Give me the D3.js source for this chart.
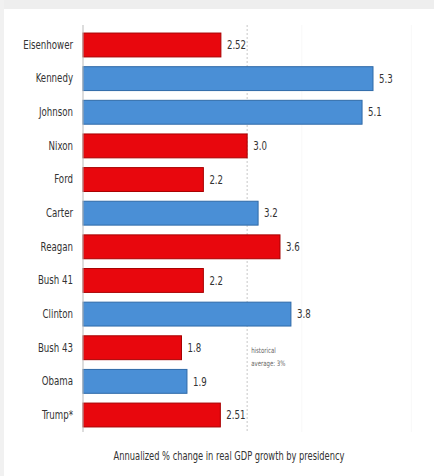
<!DOCTYPE html>
<html>
<head>
  <script src="https://d3js.org/d3.v7.min.js"></script>
  <style>
    body { margin: 0; background: #ffffff; }
    text { font-family: "DejaVu Sans Condensed", "DejaVu Sans", sans-serif; font-stretch: condensed; fill: #333; }
  </style>
</head>
<body>
  <svg width="434" height="476"></svg>
  <script>
  // data
  var presidents = ["Eisenhower", "Kennedy", "Johnson", "Nixon", "Ford", "Carter",
                    "Reagan", "Bush 41", "Clinton", "Bush 43", "Obama", "Trump*"];
  var growth = [2.52, 5.3, 5.1, 3.0, 2.2, 3.2, 3.6, 2.2, 3.8, 1.8, 1.9, 2.51];
  var labels = ["2.52", "5.3", "5.1", "3.0", "2.2", "3.2", "3.6", "2.2", "3.8", "1.8", "1.9", "2.51"];
  var party = ["R", "D", "D", "R", "R", "D", "R", "R", "D", "R", "D", "R"];
  var average = 3;

  var svg = d3.select("svg");
  var squeeze = 0.8; // narrow font look

  // light gray edges of the photo
  svg.append("rect").attr("x", 0).attr("y", 0).attr("width", 434).attr("height", 9).attr("fill", "#eeeeee");
  svg.append("rect").attr("x", 0).attr("y", 0).attr("width", 4).attr("height", 476).attr("fill", "#f1f1f1");

  var x = d3.scaleLinear().domain([0, 5.3]).range([83, 373]);
  var y = d3.scaleBand().domain(presidents).range([28, 432]).paddingInner(0.29).paddingOuter(0.15);

  // faint grid
  svg.selectAll("line.grid").data([4, 6]).enter().append("line")
    .attr("x1", function(d){ return x(d); }).attr("x2", function(d){ return x(d); })
    .attr("y1", 25).attr("y2", 432)
    .attr("stroke", "#f8f8f8");

  // historical average line
  svg.append("line")
    .attr("x1", x(average)).attr("x2", x(average))
    .attr("y1", 25).attr("y2", 432)
    .attr("stroke", "#c8c8c8").attr("stroke-dasharray", "2,2");

  var colors = { R: "#e8070d", D: "#4a8fd6" };
  var edges = { R: "#a80000", D: "#2f6aa8" };

  svg.selectAll("rect.bar").data(presidents).enter().append("rect")
    .attr("class", "bar")
    .attr("x", x(0))
    .attr("y", function(d){ return y(d); })
    .attr("width", function(d, i){ return x(growth[i]) - x(0); })
    .attr("height", y.bandwidth())
    .attr("fill", function(d, i){ return colors[party[i]]; })
    .attr("stroke", function(d, i){ return edges[party[i]]; })
    .attr("stroke-width", 1);

  // value labels
  svg.selectAll("text.val").data(presidents).enter().append("text")
    .attr("transform", function(d, i){
      return "translate(" + (x(growth[i]) + 6) + "," + (y(d) + y.bandwidth() / 2) + ") scale(" + squeeze + ",1)";
    })
    .attr("dy", "0.35em")
    .style("font-size", "12px")
    .text(function(d, i){ return labels[i]; });

  // category axis
  var yAxis = d3.axisLeft(y).tickSize(0).tickPadding(0);
  var g = svg.append("g").attr("transform", "translate(" + x(0) + ",0)").call(yAxis);
  g.select(".domain").attr("stroke", "#bbbbbb").attr("d", "M0,25V432");
  g.selectAll(".tick text")
    .attr("x", null)
    .attr("transform", "translate(-10,0) scale(" + squeeze + ",1)")
    .style("font-size", "12px").style("fill", "#333");

  // annotation
  svg.append("text").attr("transform", "translate(" + (x(average) + 4) + ",353) scale(" + squeeze + ",1)")
    .style("font-size", "7.5px").style("fill", "#666").text("historical");
  svg.append("text").attr("transform", "translate(" + (x(average) + 4) + ",366) scale(" + squeeze + ",1)")
    .style("font-size", "7.5px").style("fill", "#666").text("average: 3%");

  // title
  svg.append("text").attr("transform", "translate(229,460) scale(0.77,1)")
    .attr("text-anchor", "middle")
    .style("font-size", "12px").text("Annualized % change in real GDP growth by presidency");
  </script>
</body>
</html>
